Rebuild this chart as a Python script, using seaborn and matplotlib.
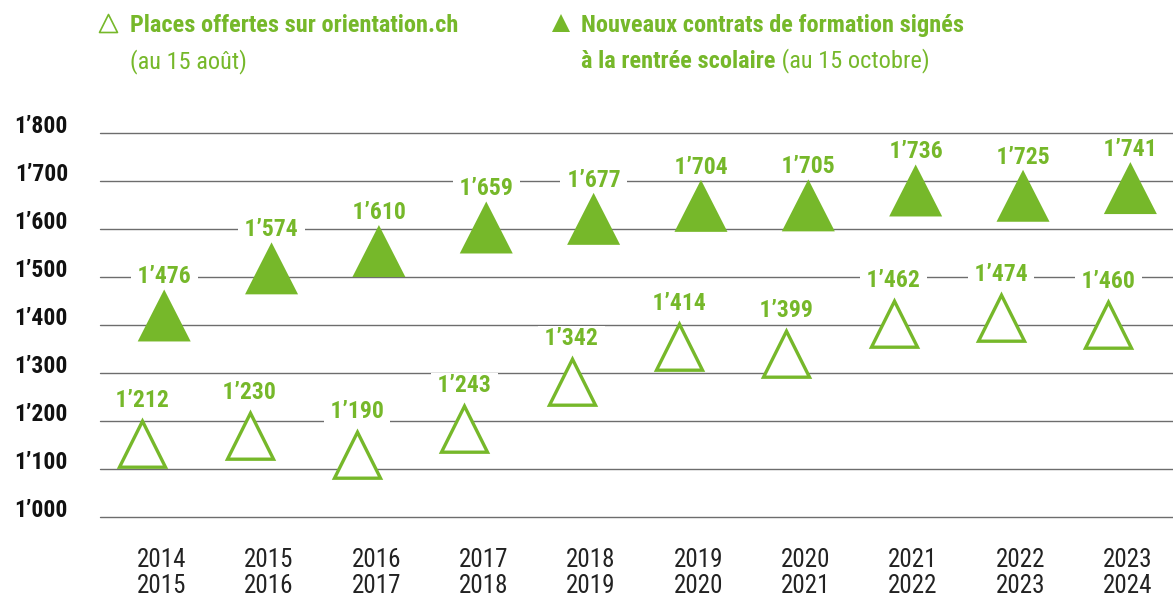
import numpy as np
import pandas as pd
import matplotlib.pyplot as plt
import seaborn as sns
from matplotlib.path import Path
from matplotlib.markers import MarkerStyle

# données
periodes = ["2014\n2015", "2015\n2016", "2016\n2017", "2017\n2018", "2018\n2019",
            "2019\n2020", "2020\n2021", "2021\n2022", "2022\n2023", "2023\n2024"]
places = [1212, 1230, 1190, 1243, 1342, 1414, 1399, 1462, 1474, 1460]
contrats = [1476, 1574, 1610, 1659, 1677, 1704, 1705, 1736, 1725, 1741]
yticks = [1000, 1100, 1200, 1300, 1400, 1500, 1600, 1700, 1800]

green = "#76b82a"
W, H = 1173, 597


def fmt(v):
    return f"{v:,}".replace(",", "\u2019")


def triangle(top, bottom, half_w):
    # triangle marker, pointe en haut près de la valeur (unités = pixels)
    verts = [(0, -top), (-half_w, -bottom), (half_w, -bottom), (0, -top)]
    codes = [Path.MOVETO, Path.LINETO, Path.LINETO, Path.CLOSEPOLY]
    m = MarkerStyle(Path(verts, codes))
    size = (2 * max(bottom, half_w) * 0.72) ** 2
    return m, size


sns.set_theme(style="white")
plt.rcParams['font.family'] = ['Roboto Condensed', 'DejaVu Sans']

df = pd.DataFrame({"periode": periodes, "pos": np.arange(len(periodes)),
                   "places": places, "contrats": contrats})

fig = plt.figure(figsize=(W / 100, H / 100), dpi=100)
ax = fig.add_axes([100 / W, 1 - 517.3 / H, 1073 / W, 384.6 / H])

m_open, s_open = triangle(5.7, 51.7, 23)
m_full, s_full = triangle(1, 53, 26.5)

sns.scatterplot(x=df["pos"] - 0.18, y=df["places"], ax=ax, marker=m_open, s=s_open,
                facecolor="white", edgecolor=green, linewidth=2.4, joinstyle="miter",
                zorder=5, clip_on=False)
sns.scatterplot(x=df["pos"] + 0.025, y=df["contrats"], ax=ax, marker=m_full, s=s_full,
                color=green, edgecolor="none", linewidth=0, zorder=5, clip_on=False)

# étiquettes avec fond blanc qui coupe les lignes de la grille
lbl = dict(textcoords="offset points", ha="center", va="baseline", color=green,
           fontsize=17, fontweight="bold", zorder=4,
           bbox=dict(boxstyle="square,pad=0.05", fc="white", ec="none"))
for x, v in zip(df["pos"] - 0.18, df["places"]):
    ax.annotate(f" {fmt(v)} ", xy=(x, v), xytext=(0, 5.8), **lbl)
for x, v in zip(df["pos"] + 0.025, df["contrats"]):
    ax.annotate(f" {fmt(v)} ", xy=(x, v), xytext=(0, 3.6), **lbl)

ax.set_xlim(-0.573, 9.422)
ax.set_ylim(1000, 1800)
ax.set_yticks(yticks)
ax.set_yticklabels([fmt(v) for v in yticks], fontsize=17, fontweight="bold", color="#111111")
for t in ax.get_yticklabels():
    t.set_verticalalignment("baseline")
ax.set_xticks(df["pos"])
ax.set_xticklabels(df["periode"], fontsize=18, color="#222222", linespacing=1.1)
ax.tick_params(axis="y", length=0, pad=23)
ax.tick_params(axis="x", length=0, pad=22)
ax.set_xlabel("")
ax.set_ylabel("")
ax.grid(axis="y", color="#6d6d6d", linewidth=1)
ax.grid(axis="x", visible=False)
for gl in ax.get_ygridlines():
    gl.set_clip_on(False)
ax.set_axisbelow(True)
for sp in ax.spines.values():
    sp.set_visible(False)

# légende en haut
lm, ls = triangle(0, 18, 9)
ax.scatter([108 / W], [1 - 14 / H], marker=lm, s=ls, facecolor="white", edgecolor=green,
           linewidth=1.2, transform=fig.transFigure, clip_on=False)
ax.scatter([561 / W], [1 - 14 / H], marker=lm, s=ls, color=green, edgecolor="none",
           transform=fig.transFigure, clip_on=False)

leg = dict(color=green, fontsize=17.6, va="baseline")
fig.text(130 / W, 1 - 32 / H, "Places offertes sur orientation.ch", fontweight="bold", **leg)
fig.text(130 / W, 1 - 68 / H, "(au 15 août)", **leg)
fig.text(581 / W, 1 - 32 / H, "Nouveaux contrats de formation signés", fontweight="bold", **leg)
t2 = fig.text(581 / W, 1 - 68 / H, "à la rentrée scolaire", fontweight="bold", **leg)
ax.annotate(" (au 15 octobre)", xy=(1, 0), xycoords=t2, va="bottom", ha="left",
            color=green, fontsize=17.6, annotation_clip=False)

fig.savefig("out.png", dpi=100)
